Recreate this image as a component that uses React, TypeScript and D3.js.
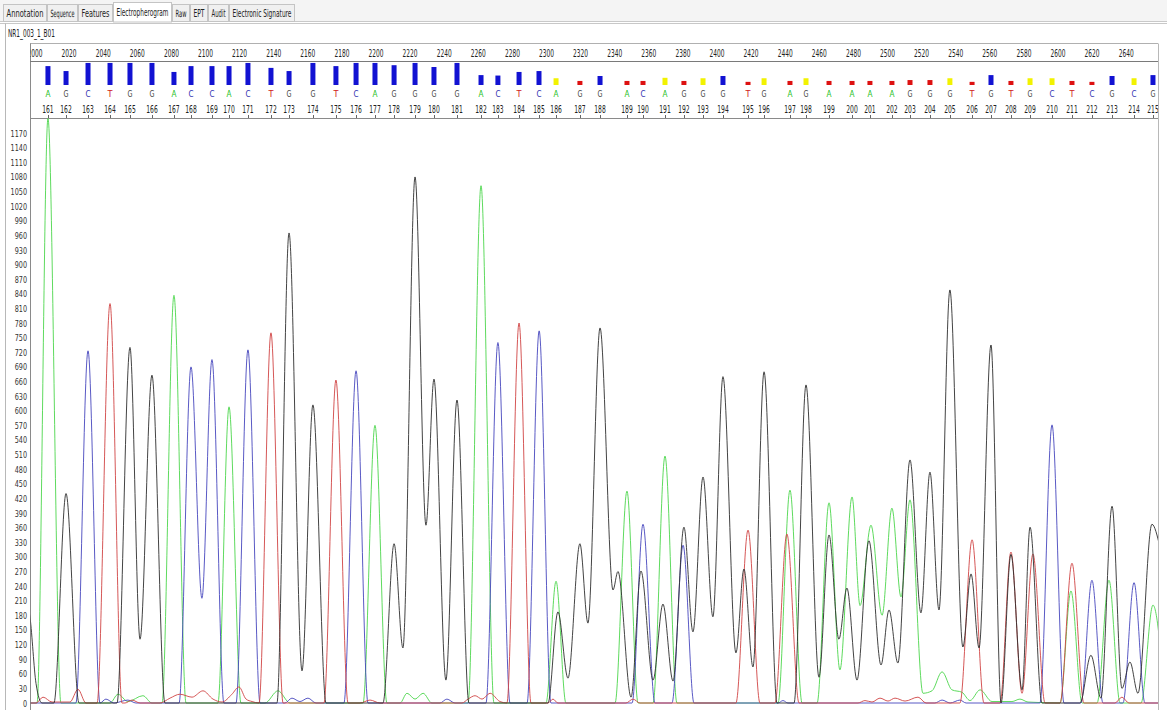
import React from "react";
import * as d3 from "d3";

// ---------- DATA ----------
const tabLabels = ["Annotation", "Sequence", "Features", "Electropherogram", "Raw", "EPT", "Audit", "Electronic Signature"];
const sampleName = "NR1_003_1_B01";

const scanTicks = [2000, 2020, 2040, 2060, 2080, 2100, 2120, 2140, 2160, 2180, 2200, 2220, 2240, 2260, 2280, 2300, 2320, 2340, 2360, 2380, 2400, 2420, 2440, 2460, 2480, 2500, 2520, 2540, 2560, 2580, 2600, 2620, 2640];
const yTicks = [0, 30, 60, 90, 120, 150, 180, 210, 240, 270, 300, 330, 360, 390, 420, 450, 480, 510, 540, 570, 600, 630, 660, 690, 720, 750, 780, 810, 840, 870, 900, 930, 960, 990, 1020, 1050, 1080, 1110, 1140, 1170];

const baseNumbers = [161, 162, 163, 164, 165, 166, 167, 168, 169, 170, 171, 172, 173, 174, 175, 176, 177, 178, 179, 180, 181, 182, 183, 184, 185, 186, 187, 188, 189, 190, 191, 192, 193, 194, 195, 196, 197, 198, 199, 200, 201, 202, 203, 204, 205, 206, 207, 208, 209, 210, 211, 212, 213, 214, 215];
const baseCalls = ["A","G","C","T","G","G","A","C","C","A","C","T","G","G","T","C","A","G","G","G","G","A","C","T","C","A","G","G","A","C","A","G","G","G","T","G","A","G","A","A","A","A","G","G","G","T","G","T","G","C","T","C","G","C","G"];
const baseScans = [2007.6, 2018.2, 2031.1, 2044.0, 2055.7, 2068.6, 2081.5, 2091.5, 2103.8, 2113.8, 2124.9, 2138.4, 2149.0, 2163.0, 2176.5, 2188.3, 2199.4, 2210.6, 2222.9, 2234.0, 2247.5, 2261.6, 2271.5, 2283.9, 2295.6, 2305.6, 2319.6, 2331.4, 2347.2, 2356.6, 2369.5, 2380.6, 2391.8, 2403.5, 2418.2, 2427.6, 2442.8, 2452.2, 2465.7, 2479.2, 2489.7, 2502.6, 2513.2, 2524.9, 2536.6, 2549.6, 2560.7, 2572.4, 2583.6, 2596.5, 2608.2, 2619.9, 2631.7, 2644.6, 2655.7];
const qualityValues = [42, 31, 49, 49, 49, 49, 29, 42, 42, 42, 49, 38, 31, 49, 42, 49, 49, 44, 49, 40, 49, 22, 21, 29, 31, 15, 9, 20, 9, 9, 16, 9, 15, 20, 7, 15, 9, 15, 9, 9, 9, 9, 11, 11, 15, 7, 22, 9, 15, 15, 9, 7, 20, 15, 22];

// trace key points: [scan, signal]
const traceA: [number, number][] = [[1997.1,0],[2001.2,0],[2007.6,1200],[2015.2,0],[2044.0,0],[2048.7,18],[2054.5,3],[2063.3,15],[2068.6,0],[2074.5,0],[2081.5,837],[2088.6,0],[2107.3,0],[2113.8,608],[2120.8,0],[2134.9,0],[2142.5,25],[2149.6,0],[2192.4,0],[2199.4,570],[2206.4,0],[2214.1,0],[2218.2,20],[2222.9,8],[2227.6,20],[2232.8,0],[2254.0,0],[2261.6,1062],[2269.2,0],[2299.7,0],[2305.6,250],[2311.4,0],[2340.2,0],[2347.2,435],[2353.7,0],[2362.5,0],[2369.5,507],[2376.5,0],[2435.8,0],[2442.8,437],[2449.9,0],[2458.7,0],[2465.7,411],[2472.1,68],[2479.2,423],[2483.9,200],[2490.3,365],[2496.8,180],[2502.6,400],[2507.9,218],[2513.2,417],[2520.8,20],[2526.1,25],[2532.0,64],[2537.8,27],[2543.7,22],[2548.4,5],[2554.3,27],[2561.3,3],[2573.0,3],[2577.7,8],[2582.4,2],[2601.2,0],[2607.6,230],[2614.1,0],[2622.9,0],[2629.9,252],[2636.4,0],[2648.7,0],[2655.7,201],[2662.8,0]];
const traceC: [number, number][] = [[1997.1,0],[2024.0,0],[2031.1,723],[2038.1,0],[2041.6,8],[2046.3,0],[2054.5,6],[2059.2,0],[2084.5,0],[2091.5,690],[2097.9,215],[2103.8,705],[2110.8,0],[2117.9,0],[2124.9,725],[2132.0,0],[2146.6,0],[2150.7,10],[2155.4,3],[2160.1,10],[2164.8,0],[2181.2,0],[2188.3,682],[2195.3,0],[2237.5,0],[2241.6,8],[2246.3,0],[2264.5,0],[2271.5,740],[2278.6,0],[2288.6,0],[2295.7,764],[2302.6,0],[2350.2,0],[2356.6,367],[2363.6,0],[2373.6,0],[2380.1,324],[2386.5,0],[2435.8,0],[2438.7,5],[2441.6,0],[2527.8,0],[2532.0,6],[2536.7,0],[2542.5,6],[2546.1,0],[2589.4,0],[2596.5,571],[2603.5,0],[2613.5,0],[2619.9,252],[2626.4,0],[2638.1,0],[2644.6,247],[2651.0,0],[2662.8,0]];
const traceT: [number, number][] = [[1997.1,0],[2000.6,0],[2004.7,12],[2010.0,2],[2020.5,2],[2025.2,28],[2029.9,0],[2036.4,0],[2044.0,820],[2051.0,0],[2052.8,0],[2056.9,6],[2061.6,0],[2073.3,0],[2079.2,10],[2085.0,18],[2092.1,12],[2098.5,25],[2104.4,8],[2109.7,2],[2115.5,18],[2119.6,33],[2123.8,8],[2127.3,3],[2131.4,0],[2138.4,760],[2145.5,0],[2169.5,0],[2176.5,663],[2183.6,0],[2190.6,0],[2196.5,6],[2202.3,0],[2250.4,0],[2254.0,8],[2258.1,15],[2262.2,8],[2266.9,20],[2272.7,3],[2276.8,0],[2283.9,780],[2290.9,0],[2300.9,0],[2303.8,8],[2306.7,0],[2346.6,0],[2350.7,8],[2354.8,0],[2411.1,0],[2418.2,355],[2425.2,0],[2434.0,0],[2441.0,347],[2448.1,0],[2482.7,0],[2486.8,5],[2490.9,2],[2495.6,10],[2500.3,4],[2504.4,10],[2510.3,4],[2517.9,12],[2522.6,0],[2542.5,0],[2549.6,335],[2556.6,0],[2566.0,0],[2572.4,310],[2578.9,20],[2585.3,306],[2592.4,0],[2601.2,0],[2608.2,287],[2615.2,0],[2633.4,0],[2637.5,12],[2641.6,0],[2662.8,0]];
const traceG: [number, number][] = [[1993.5,230],[1997.1,175],[2000.6,40],[2004.1,0],[2011.1,0],[2018.2,430],[2025.8,0],[2048.1,0],[2055.7,730],[2061.6,131],[2068.6,673],[2076.2,0],[2141.9,0],[2149.0,965],[2156.6,66],[2163.0,612],[2170.7,0],[2204.1,0],[2210.6,327],[2215.8,113],[2222.9,1080],[2229.3,365],[2234.0,665],[2241.0,47],[2247.5,622],[2254.5,0],[2300.9,0],[2306.7,187],[2312.6,51],[2319.6,327],[2324.3,164],[2331.4,770],[2339.0,232],[2341.9,270],[2349.6,12],[2355.4,271],[2362.5,47],[2368.3,203],[2374.2,45],[2380.6,361],[2385.9,146],[2391.8,464],[2397.6,177],[2403.5,670],[2411.1,103],[2415.8,275],[2421.1,74],[2427.6,680],[2435.2,0],[2445.2,0],[2452.2,653],[2459.8,53],[2465.7,345],[2471.5,131],[2476.2,236],[2482.1,47],[2489.1,333],[2496.2,78],[2500.9,191],[2506.1,82],[2513.2,499],[2519.6,185],[2524.9,474],[2530.2,191],[2536.6,848],[2544.2,115],[2549.0,265],[2553.7,113],[2560.7,735],[2566.6,0],[2572.4,305],[2578.9,27],[2583.6,361],[2590.6,0],[2612.9,0],[2619.3,98],[2625.2,10],[2631.7,404],[2637.5,30],[2642.2,84],[2646.9,20],[2655.1,367],[2659.8,320],[2664.5,230]];

// ---------- STYLE ----------
const FAMILY = "DejaVu Sans";
const traceColors: Record<string, string> = { A: "#4cd64c", C: "#4646bd", G: "#2e2e2e", T: "#d04444" };
const letterColors: Record<string, string> = { A: "#22c022", C: "#3030b0", G: "#454545", T: "#d02020" };

const PLOT_L = 30, PLOT_R = 1158, PLOT_T = 118.5;

let ctx: CanvasRenderingContext2D | null = null;
function measure(text: string, size: number): number {
  if (!ctx && typeof document !== "undefined") ctx = document.createElement("canvas").getContext("2d");
  if (!ctx) return text.length * size * 0.55;
  ctx.font = `${size}px "${FAMILY}"`;
  return ctx.measureText(text).width;
}

function FitText(props: { x: number; y: number; text: string | number; width: number; size: number; anchor?: "start" | "middle" | "end"; fill?: string }) {
  const { x, y, text, width, size, anchor = "middle", fill = "#222" } = props;
  const s = String(text);
  const nat = measure(s, size);
  const sx = nat > 0 ? width / nat : 1;
  return (
    <text transform={`translate(${x},${y}) scale(${sx.toFixed(4)},1)`} textAnchor={anchor} fontSize={size} fill={fill} fontFamily={FAMILY}>{s}</text>
  );
}

export default function App() {
  const x = d3.scaleLinear().domain([2000, 2640]).range([35, 35 + 640 * 1.705]);
  const y = d3.scaleLinear().domain([0, 1200]).range([703, 118.5]);
  const q = d3.scaleLinear().domain([0, 50]).range([0, 22.5]);
  const line = d3.line<[number, number]>().x(d => x(d[0])).y(d => y(d[1])).curve(d3.curveMonotoneX);

  const tabEdges = [3, 47, 78, 113, 172, 190, 208, 229, 295];
  const qColor = (v: number) => (v >= 20 ? "#1212d2" : v >= 15 ? "#f2f200" : "#dd1111");

  const traces: [string, [number, number][]][] = [["A", traceA], ["C", traceC], ["T", traceT], ["G", traceG]];

  return (
    <svg width={1167} height={710} style={{ position: "absolute", left: 0, top: 0, background: "#fff" }} fontFamily={FAMILY}>
      <defs>
        <clipPath id="plotClip"><rect x={PLOT_L + 0.5} y={PLOT_T - 1} width={PLOT_R - PLOT_L - 0.5} height={710 - PLOT_T + 1} /></clipPath>
        <clipPath id="hdrClip"><rect x={PLOT_L + 0.5} y={43} width={PLOT_R - PLOT_L - 0.5} height={76} /></clipPath>
      </defs>
      <rect x={0} y={0} width={1167} height={710} fill="#fff" />
      {/* tab strip */}
      <rect x={0} y={0} width={1167} height={22} fill="#f4f4f4" />
      <line x1={0} x2={1167} y1={21.5} y2={21.5} stroke="#c9c9c9" />
      {tabLabels.map((t, i) => {
        const x0 = tabEdges[i], x1 = tabEdges[i + 1];
        const sel = t === "Electropherogram";
        return (
          <g key={t}>
            <rect x={x0 + 0.5} y={sel ? 2.5 : 4.5} width={x1 - x0 - 1} height={sel ? 19.5 : 17} fill={sel ? "#ffffff" : "#f0f0f0"} stroke="#c4c4c4" />
            <FitText x={(x0 + x1) / 2} y={sel ? 15.5 : 16.5} text={t} width={x1 - x0 - 7} size={10} fill="#222" />
          </g>
        );
      })}
      {/* panel frame */}
      <line x1={0} x2={1167} y1={23.5} y2={23.5} stroke="#c8c8c8" />
      <line x1={5.5} x2={5.5} y1={23.5} y2={710} stroke="#b8b8b8" />
      <FitText x={8} y={36.5} text={sampleName} width={47} size={10} anchor="start" />
      <line x1={PLOT_L} x2={PLOT_R} y1={43.5} y2={43.5} stroke="#b0b0b0" />
      <line x1={PLOT_R + 0.5} x2={PLOT_R + 0.5} y1={43.5} y2={710} stroke="#b8b8b8" />
      <line x1={PLOT_L + 0.5} x2={PLOT_L + 0.5} y1={43.5} y2={710} stroke="#8a8a8a" />
      <line x1={PLOT_L} x2={PLOT_R} y1={61.5} y2={61.5} stroke="#7a7a7a" />
      <line x1={PLOT_L} x2={PLOT_R} y1={118.5} y2={118.5} stroke="#8a8a8a" />

      {/* header: scan ruler, quality bars, base calls, base numbers */}
      <g clipPath="url(#hdrClip)">
        {scanTicks.map(t => (
          <FitText key={t} x={x(t)} y={56.5} text={t} width={15} size={10} />
        ))}
        {baseScans.map((s, i) => {
          const v = qualityValues[i];
          const h = q(v);
          return <rect key={"q" + i} x={x(s) - 2.5} y={85 - h} width={5} height={h} fill={qColor(v)} />;
        })}
        {baseScans.map((s, i) => (
          <FitText key={"b" + i} x={x(s)} y={97} text={baseCalls[i]} width={5} size={9.5} fill={letterColors[baseCalls[i]]} />
        ))}
        {baseScans.map((s, i) => (
          <FitText key={"n" + i} x={x(s)} y={112.5} text={baseNumbers[i]} width={11.5} size={10.5} />
        ))}
        {baseScans.map((s, i) => (
          <line key={"t" + i} x1={Math.round(x(s)) + 0.5} x2={Math.round(x(s)) + 0.5} y1={115} y2={118} stroke="#666" />
        ))}
      </g>

      {/* y axis labels */}
      {yTicks.map(v => (
        <FitText key={v} x={27} y={y(v) + 3.5} text={v} width={String(v).length * 4.1} size={9.5} anchor="end" fill="#333" />
      ))}

      {/* traces */}
      <g clipPath="url(#plotClip)">
        {traces.map(([b, pts]) => (
          <path key={b} d={line(pts) || ""} fill="none" stroke={traceColors[b]} strokeWidth={0.9} />
        ))}
      </g>
    </svg>
  );
}
